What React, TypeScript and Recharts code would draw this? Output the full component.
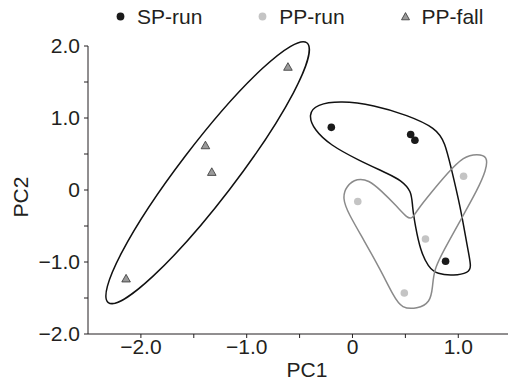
import React from "react";
import {
  ComposedChart,
  Scatter,
  Line,
  XAxis,
  YAxis,
  ReferenceLine,
} from "recharts";

// sample scores (PC1, PC2)
const spRun = [
  { x: -0.2, y: 0.87 },
  { x: 0.55, y: 0.77 },
  { x: 0.59, y: 0.69 },
  { x: 0.88, y: -0.99 },
];

const ppRun = [
  { x: 0.05, y: -0.16 },
  { x: 1.05, y: 0.19 },
  { x: 0.69, y: -0.68 },
  { x: 0.49, y: -1.43 },
];

const ppFall = [
  { x: -0.61, y: 1.71 },
  { x: -1.39, y: 0.62 },
  { x: -1.33, y: 0.25 },
  { x: -2.14, y: -1.23 },
];

// outline control points (smoothed with a closed b-spline)
const fallHull = [
  { x: -0.33, y: 2.24 },
  { x: -0.47, y: 1.47 },
  { x: -1.14, y: -0.02 },
  { x: -1.94, y: -1.35 },
  { x: -2.41, y: -1.76 },
  { x: -2.27, y: -0.99 },
  { x: -1.6, y: 0.5 },
  { x: -0.8, y: 1.84 },
];

const spHull = [
  { x: -0.42, y: 1.05 },
  { x: -0.34, y: 1.19 },
  { x: -0.11, y: 1.24 },
  { x: 0.2, y: 1.18 },
  { x: 0.52, y: 1.04 },
  { x: 0.79, y: 0.86 },
  { x: 0.875, y: 0.66 },
  { x: 0.93, y: 0.32 },
  { x: 1.02, y: -0.23 },
  { x: 1.09, y: -0.83 },
  { x: 1.125, y: -1.07 },
  { x: 1.095, y: -1.15 },
  { x: 0.96, y: -1.19 },
  { x: 0.8, y: -1.17 },
  { x: 0.715, y: -1.07 },
  { x: 0.64, y: -0.83 },
  { x: 0.595, y: -0.51 },
  { x: 0.565, y: -0.23 },
  { x: 0.56, y: -0.01 },
  { x: 0.45, y: 0.14 },
  { x: 0.36, y: 0.21 },
  { x: 0.047, y: 0.42 },
  { x: -0.21, y: 0.625 },
  { x: -0.36, y: 0.83 },
];

const ppHull = [
  { x: 1.278, y: 0.47 },
  { x: 1.18, y: 0.5 },
  { x: 1.053, y: 0.47 },
  { x: 0.896, y: 0.232 },
  { x: 0.738, y: -0.046 },
  { x: 0.612, y: -0.278 },
  { x: 0.565, y: -0.4 },
  { x: 0.518, y: -0.39 },
  { x: 0.423, y: -0.232 },
  { x: 0.265, y: 0.0 },
  { x: 0.154, y: 0.135 },
  { x: 0.044, y: 0.165 },
  { x: -0.06, y: 0.055 },
  { x: -0.095, y: -0.115 },
  { x: -0.04, y: -0.324 },
  { x: 0.107, y: -0.694 },
  { x: 0.265, y: -1.111 },
  { x: 0.391, y: -1.482 },
  { x: 0.465, y: -1.645 },
  { x: 0.612, y: -1.65 },
  { x: 0.735, y: -1.565 },
  { x: 0.758, y: -1.343 },
  { x: 0.769, y: -1.111 },
  { x: 0.864, y: -0.833 },
  { x: 1.022, y: -0.417 },
  { x: 1.18, y: 0.0 },
  { x: 1.265, y: 0.278 },
];

const xTicks = [-2, -1.5, -1, -0.5, 0, 0.5, 1];
const yTicks = [-2, -1.5, -1, -0.5, 0, 0.5, 1, 1.5, 2];
const xDomain = [-2.5, 1.47];
const yDomain = [-2, 2.25];

const legendItems = [
  { name: "SP-run", shape: "dot", color: "#1a1a1a" },
  { name: "PP-run", shape: "dot", color: "#c4c4c4" },
  { name: "PP-fall", shape: "triangle", color: "#9a9a9a" },
];

const FONT = "'Liberation Sans', Arial, Helvetica, sans-serif";
const INK = "#231f20";

const fmtTick = (v: number) => {
  if (!Number.isInteger(v)) return "";
  if (v === 0) return "0";
  return (v < 0 ? "\u2212" : "") + Math.abs(v).toFixed(1);
};

const Dot = (color: string) => (props: any) => {
  const { cx, cy } = props;
  if (cx == null || cy == null) return <g />;
  return <circle cx={cx} cy={cy} r={3.8} fill={color} />;
};

const Tri = (props: any) => {
  const { cx, cy } = props;
  if (cx == null || cy == null) return <g />;
  return (
    <path
      d={`M${cx},${cy - 4.2}L${cx + 4.3},${cy + 3.4}L${cx - 4.3},${cy + 3.4}Z`}
      fill="#9a9a9a"
      stroke="#333"
      strokeWidth={0.8}
    />
  );
};

const XLabel = (props: any) => {
  const vb = props.viewBox;
  return (
    <text
      x={vb.x + vb.width / 2 + 9}
      y={vb.y + 35}
      textAnchor="middle"
      dominantBaseline="central"
      fontSize={21}
      fontFamily={FONT}
      fill={INK}
    >
      PC1
    </text>
  );
};

const YLabel = (props: any) => {
  const vb = props.viewBox;
  const x = vb.x + 20;
  const y = vb.y + vb.height / 2 + 16;
  return (
    <text
      x={x}
      y={y}
      transform={`rotate(-90 ${x} ${y})`}
      textAnchor="middle"
      dominantBaseline="central"
      fontSize={21}
      fontFamily={FONT}
      fill={INK}
    >
      PC2
    </text>
  );
};

function Legend() {
  return (
    <div
      style={{
        position: "absolute",
        left: 116,
        top: 6,
        display: "flex",
        fontFamily: FONT,
        fontSize: 21,
        lineHeight: "21px",
        color: INK,
      }}
    >
      {legendItems.map((item) => (
        <div
          key={item.name}
          style={{ width: 142.3, display: "flex", alignItems: "center" }}
        >
          <svg width={9} height={9} style={{ flex: "none" }}>
            {item.shape === "dot" ? (
              <circle cx={4.5} cy={4.5} r={3.9} fill={item.color} />
            ) : (
              <path
                d="M4.5,0.6L8.5,7.8L0.5,7.8Z"
                fill={item.color}
                stroke="#333"
                strokeWidth={0.8}
              />
            )}
          </svg>
          <span style={{ marginLeft: 12 }}>{item.name}</span>
        </div>
      ))}
    </div>
  );
}

export default function App() {
  return (
    <div style={{ position: "absolute", left: 0, top: 0, width: 509, height: 381, background: "#fff" }}>
      <ComposedChart
        width={509}
        height={381}
        margin={{ top: 28, right: 1, bottom: 0, left: 0 }}
      >
        <XAxis
          type="number"
          dataKey="x"
          domain={xDomain}
          allowDataOverflow
          ticks={xTicks}
          tickFormatter={fmtTick}
          interval={0}
          height={47}
          tickSize={4}
          tickMargin={1}
          stroke={INK}
          tick={{ fill: INK, fontSize: 21, fontFamily: FONT }}
          label={XLabel}
        />
        <YAxis
          type="number"
          dataKey="y"
          domain={yDomain}
          allowDataOverflow
          ticks={yTicks}
          tickFormatter={fmtTick}
          interval={0}
          width={88}
          tickSize={4}
          tickMargin={4}
          axisLine={false}
          stroke={INK}
          tick={{ fill: INK, fontSize: 21, fontFamily: FONT }}
          label={YLabel}
        />
        <ReferenceLine
          segment={[
            { x: xDomain[0], y: -2 },
            { x: xDomain[0], y: 2 },
          ]}
          stroke={INK}
          strokeWidth={1}
          ifOverflow="visible"
        />
        <Line
          data={fallHull}
          dataKey="y"
          type="basisClosed"
          stroke="#111"
          strokeWidth={1.5}
          dot={false}
          activeDot={false}
          isAnimationActive={false}
        />
        <Line
          data={spHull}
          dataKey="y"
          type="basisClosed"
          stroke="#111"
          strokeWidth={1.5}
          dot={false}
          activeDot={false}
          isAnimationActive={false}
        />
        <Line
          data={ppHull}
          dataKey="y"
          type="basisClosed"
          stroke="#8a8a8a"
          strokeWidth={1.5}
          dot={false}
          activeDot={false}
          isAnimationActive={false}
        />
        <Scatter data={ppRun} shape={Dot("#c4c4c4")} isAnimationActive={false} />
        <Scatter data={spRun} shape={Dot("#1a1a1a")} isAnimationActive={false} />
        <Scatter data={ppFall} shape={Tri} isAnimationActive={false} />
      </ComposedChart>
      <Legend />
    </div>
  );
}
